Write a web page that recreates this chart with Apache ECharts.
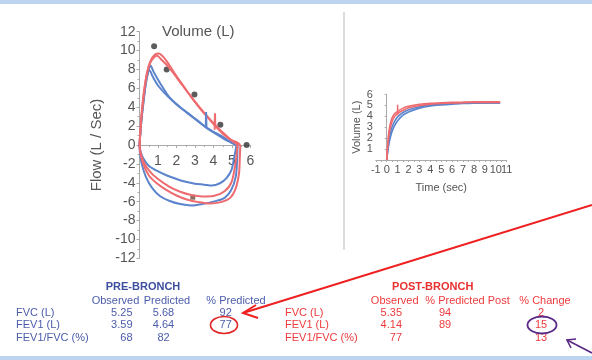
<!DOCTYPE html>
<html><head><meta charset="utf-8">
<script src="https://cdn.jsdelivr.net/npm/echarts@6/dist/echarts.min.js"></script>
<style>html,body{margin:0;padding:0;background:#fff}#c{width:592px;height:360px}</style>
</head><body><div id="c"></div>
<script>
// ---------- Flow-volume loops (volume L, flow L/s) ----------
const blueExpA = [[0,0],[0.1,2.5],[0.22,4.6],[0.35,6.6],[0.5,8.0],[0.6,8.4],[0.75,7.8],[1.1,6.6],[1.6,5.1],[2.2,4.0],[2.7,3.2],[3.1,2.6],[3.55,1.95],[4.0,1.4],[4.4,1.0],[4.8,0.5],[5.1,0.2],[5.3,0]];
const blueExpB = [[0,0],[0.12,3.0],[0.3,6.0],[0.45,7.6],[0.55,7.9],[0.7,7.3],[1.0,6.3],[1.5,5.2],[2.0,4.3],[2.6,3.4],[3.2,2.5],[3.7,1.7],[4.2,1.1],[4.6,0.6],[5.0,0.2],[5.2,0]];
const blueInspA = [[5.25,0],[5.1,-1.5],[4.98,-2.6],[4.7,-3.5],[4.35,-4.05],[3.9,-4.3],[3.5,-4.2],[3.0,-4.1],[2.5,-3.9],[2.0,-3.6],[1.45,-3.2],[0.9,-2.7],[0.5,-2.2],[0.2,-1.4],[0.05,-0.6],[0,0]];
const blueInspB = [[5.3,0],[5.28,-1.5],[5.2,-3.4],[4.95,-4.8],[4.6,-5.6],[4.0,-6.0],[3.4,-6.25],[2.8,-6.4],[2.2,-6.25],[1.6,-5.9],[1.1,-5.4],[0.7,-4.6],[0.35,-3.4],[0.12,-2.0],[0.02,-0.8],[0,0]];
const redExpA = [[0,0],[0.1,2.8],[0.22,5.1],[0.4,7.6],[0.6,8.9],[0.85,9.6],[1.05,9.7],[1.3,9.3],[1.6,8.5],[2.0,7.3],[2.5,5.9],[2.9,4.8],[3.3,3.8],[3.7,2.9],[4.1,2.0],[4.5,1.2],[4.9,0.6],[5.25,0.3],[5.45,0]];
const redExpB = [[0,0],[0.12,3.5],[0.3,6.5],[0.55,8.6],[0.8,9.3],[0.95,9.45],[1.2,9.0],[1.6,8.2],[2.1,6.9],[2.6,5.6],[3.0,4.6],[3.5,3.4],[4.0,2.3],[4.4,1.5],[4.8,0.8],[5.1,0.3],[5.35,0]];
const redInspA = [[5.45,0],[5.42,-1.5],[5.38,-3.0],[5.2,-4.6],[4.9,-5.6],[4.4,-6.05],[3.8,-6.2],[3.2,-6.05],[2.6,-5.8],[2.0,-5.35],[1.4,-4.7],[0.9,-4.0],[0.5,-3.2],[0.2,-2.0],[0.05,-0.9],[0,0]];
const redInspB = [[5.3,0],[5.2,-1.8],[4.98,-3.9],[4.6,-4.9],[4.0,-5.4],[3.4,-5.45],[2.8,-5.3],[2.2,-4.95],[1.6,-4.4],[1.0,-3.6],[0.6,-2.9],[0.25,-1.9],[0.07,-0.9],[0,0]];
const blueSpike = [[3.58,1.9],[3.6,3.5],[3.62,1.9]];
const redSpike = [[4.06,1.6],[4.08,3.35],[4.1,1.9]];
const predictedPoints = [[0.79,10.46],[1.47,8.0],[2.97,5.35],[4.37,2.15],[5.79,0]];
const predictedInsp = [[2.88,-5.53]];

// ---------- Volume-time curves (time s, volume L) ----------
const vtBlueA = [[0,0],[0.1,0.8],[0.25,1.7],[0.45,2.5],[0.7,3.1],[1.0,3.6],[1.5,4.1],[2.0,4.4],[3.0,4.75],[4.0,4.95],[5.0,5.05],[6.0,5.12],[7.0,5.17],[8.0,5.2],[9.0,5.22],[10.4,5.22]];
const vtBlueB = [[0,0],[0.1,1.0],[0.25,2.0],[0.45,2.9],[0.7,3.5],[1.0,3.95],[1.5,4.35],[2.0,4.6],[3.0,4.88],[4.0,5.03],[5.0,5.12],[6,5.17],[7,5.2],[8,5.22],[9,5.23],[10.4,5.23]];
const vtRedA = [[0,0],[0.08,1.3],[0.2,2.6],[0.4,3.6],[0.65,4.15],[1.0,4.45],[1.5,4.75],[2.0,4.92],[3.0,5.1],[4.0,5.2],[5,5.25],[6,5.28],[7,5.3],[8,5.32],[9,5.33],[10.4,5.32]];
const vtRedB = [[0,0],[0.1,1.4],[0.25,2.6],[0.45,3.4],[0.7,3.95],[1.0,4.25],[1.5,4.55],[2,4.78],[3,5.0],[4,5.12],[5,5.18],[6,5.22],[7,5.25],[8,5.27],[9,5.28],[10.4,5.28]];
const vtRedSpike = [[1.0,4.1],[1.0,5.05]];

// ---------- Tables ----------
const rowLabels = ['FVC (L)','FEV1 (L)','FEV1/FVC (%)'];
const preTitle = 'PRE-BRONCH';
const preHeaders = ['Observed','Predicted','% Predicted'];
const preObserved = ['5.25','3.59','68'];
const prePredicted = ['5.68','4.64','82'];
const prePctPredicted = ['92','77',''];
const postTitle = 'POST-BRONCH';
const postHeaders = ['Observed','% Predicted Post','% Change'];
const postObserved = ['5.35','4.14','77'];
const postPctPredicted = ['94','89',''];
const postPctChange = ['2','15','13'];

const FONT = '"Liberation Sans", Arial, sans-serif';
const BLUE = '#5b84cc', RED = '#ee6b6f';
const TBLUE = '#4b5cab', TRED = '#ee3a3c';

const chart = echarts.init(document.getElementById('c'), null, {renderer:'canvas'});

function lineS(data, color, xi, w) {
  return {type:'line', xAxisIndex:xi, yAxisIndex:xi, data:data, smooth:0.3, showSymbol:false,
    lineStyle:{color:color, width:w||2}, silent:true, animation:false};
}

const graphics = [];
graphics.push({type:'rect', shape:{x:0,y:0,width:592,height:4}, style:{fill:'#bdd4ee'}});
graphics.push({type:'rect', shape:{x:0,y:356,width:592,height:4}, style:{fill:'#bdd4ee'}});
graphics.push({type:'line', shape:{x1:344,y1:12,x2:344,y2:250}, style:{stroke:'#d0d0d0', lineWidth:1.5}});
graphics.push({type:'text', style:{x:162, y:32, text:'Volume (L)', font:'15px '+FONT, fill:'#555', textVerticalAlign:'middle'}});

function txt(x, y, t, color, align, bold) {
  graphics.push({type:'text', z:10, style:{x:x, y:y, text:t, fill:color, textAlign:align,
    textVerticalAlign:'middle', font:(bold?'bold ':'')+'11px '+FONT}});
}
const rowY = [312.7, 325, 337.7];
// Pre-bronch
txt(143, 287.3, preTitle, '#3d4f9f', 'center', true);
txt(115.5, 300.7, preHeaders[0], TBLUE, 'center');
txt(167, 300.7, preHeaders[1], TBLUE, 'center');
txt(236, 300.7, preHeaders[2], TBLUE, 'center');
rowLabels.forEach((l,i)=>{
  txt(16, rowY[i], l, TBLUE, 'left');
  txt(132.5, rowY[i], preObserved[i], TBLUE, 'right');
  txt(163.5, rowY[i], prePredicted[i], TBLUE, 'center');
  txt(225.7, rowY[i], prePctPredicted[i], TBLUE, 'center');
});
// Post-bronch
txt(432.7, 287.3, postTitle, '#e8302f', 'center', true);
txt(394.7, 300.7, postHeaders[0], TRED, 'center');
txt(467.5, 300.7, postHeaders[1], TRED, 'center');
txt(545, 300.7, postHeaders[2], TRED, 'center');
rowLabels.forEach((l,i)=>{
  txt(285, rowY[i], l, TRED, 'left');
  txt(402, rowY[i], postObserved[i], TRED, 'right');
  txt(445, rowY[i], postPctPredicted[i], TRED, 'center');
  txt(541, rowY[i], postPctChange[i], TRED, 'center');
});
// annotations
graphics.push({type:'ellipse', z:12, shape:{cx:224, cy:325, rx:13.5, ry:8.5}, style:{fill:null, stroke:'#e02424', lineWidth:1.6}});
graphics.push({type:'ellipse', z:12, shape:{cx:542, cy:325, rx:14.5, ry:8.5}, style:{fill:null, stroke:'#5b2a86', lineWidth:1.8}});
graphics.push({type:'line', z:12, shape:{x1:592,y1:205,x2:243,y2:313}, style:{stroke:'#ee2020', lineWidth:2}});
graphics.push({type:'polyline', z:12, shape:{points:[[256,305],[243,313],[258,318]]}, style:{stroke:'#ee2020', lineWidth:2, fill:null}});
graphics.push({type:'line', z:12, shape:{x1:592,y1:353,x2:567,y2:340}, style:{stroke:'#5b2a86', lineWidth:1.6}});
graphics.push({type:'polyline', z:12, shape:{points:[[576,339],[567,340],[571,348]]}, style:{stroke:'#5b2a86', lineWidth:1.6, fill:null}});

const axisGrey = '#aaaaaa';
const option = {
  animation:false,
  backgroundColor:'#ffffff',
  textStyle:{fontFamily:FONT},
  grid:[
    {left:139.5, top:31.7, width:111, height:226.6},
    {left:375.8, top:94.5, width:130.9, height:65.5}
  ],
  xAxis:[
    {type:'value', gridIndex:0, min:0, max:6, interval:1, offset:-113.3,
     axisLine:{onZero:false, lineStyle:{color:axisGrey}},
     axisTick:{show:true, length:3, lineStyle:{color:axisGrey}},
     minorTick:{show:true, splitNumber:2, length:2, lineStyle:{color:axisGrey}},
     splitLine:{show:false},
     axisLabel:{color:'#555', fontSize:14, margin:9, showMaxLabel:true, hideOverlap:false,
       formatter:v=>v===0?'':String(v)}},
    {type:'value', gridIndex:1, position:'bottom', min:-1, max:11, interval:1,
     axisLine:{onZero:true, lineStyle:{color:axisGrey}},
     axisTick:{show:true, length:2, lineStyle:{color:axisGrey}},
     minorTick:{show:true, splitNumber:2, length:2, lineStyle:{color:axisGrey}},
     splitLine:{show:false},
     name:'Time (sec)', nameLocation:'middle', nameGap:22,
     nameTextStyle:{color:'#555', fontSize:11},
     axisLabel:{color:'#555', fontSize:11, margin:4, showMaxLabel:true, showMinLabel:true, hideOverlap:false,
       formatter:v=>v===10?'':String(v)}},
    // second label row for the crowded "10" tick on the time axis
    {type:'value', gridIndex:1, position:'bottom', offset:0, min:-1, max:11, interval:1,
     axisLine:{show:false, onZero:false}, axisTick:{show:false}, splitLine:{show:false},
     axisLabel:{color:'#555', fontSize:11, margin:4, showMaxLabel:true, showMinLabel:true, hideOverlap:false,
       formatter:v=>v===10?'10':''}}
  ],
  yAxis:[
    {type:'value', gridIndex:0, min:-12, max:12, interval:2,
     axisLine:{show:true, onZero:true, lineStyle:{color:axisGrey}},
     axisTick:{show:true, length:3, lineStyle:{color:axisGrey}},
     minorTick:{show:true, splitNumber:2, length:2, lineStyle:{color:axisGrey}},
     splitLine:{show:false},
     name:'Flow (L / Sec)', nameLocation:'middle', nameGap:35,
     nameTextStyle:{color:'#555', fontSize:15},
     axisLabel:{color:'#555', fontSize:14, margin:4}},
    {type:'value', gridIndex:1, min:0, max:6, interval:1,
     axisLine:{show:true, onZero:true, lineStyle:{color:axisGrey}},
     axisTick:{show:true, length:2, lineStyle:{color:axisGrey}},
     splitLine:{show:false},
     name:'Volume (L)', nameLocation:'middle', nameGap:13,
     nameTextStyle:{color:'#555', fontSize:11},
     axisLabel:{color:'#555', fontSize:11, margin:3, formatter:v=>v===0?'':String(v)}}
  ],
  series:[
    lineS(blueExpA, BLUE, 0), lineS(blueExpB, BLUE, 0),
    lineS(blueInspA, BLUE, 0), lineS(blueInspB, BLUE, 0),
    lineS(redExpA, RED, 0), lineS(redExpB, RED, 0),
    lineS(redInspA, RED, 0), lineS(redInspB, RED, 0),
    Object.assign(lineS(blueSpike, BLUE, 0), {smooth:false}),
    Object.assign(lineS(redSpike, RED, 0), {smooth:false}),
    {type:'scatter', xAxisIndex:0, yAxisIndex:0, data:predictedPoints, symbolSize:6, itemStyle:{color:'#333'}, silent:true},
    {type:'scatter', xAxisIndex:0, yAxisIndex:0, data:predictedInsp, symbol:'rect', symbolSize:5, itemStyle:{color:'#6b4b3a'}, silent:true},
    lineS(vtBlueA, BLUE, 1, 1.6), lineS(vtBlueB, BLUE, 1, 1.6),
    lineS(vtRedA, RED, 1, 1.6), lineS(vtRedB, RED, 1, 1.6),
    Object.assign(lineS(vtRedSpike, RED, 1, 1.6), {smooth:false})
  ],
  graphic:{elements:graphics}
};
chart.setOption(option);
</script>
</body></html>
